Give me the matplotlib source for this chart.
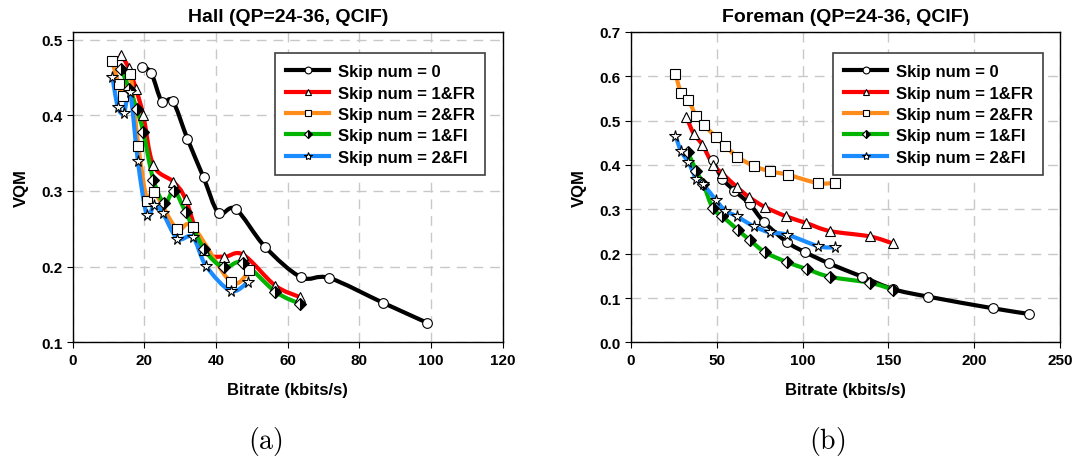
import matplotlib
matplotlib.use("Agg")
import matplotlib.pyplot as plt
from matplotlib.path import Path
from matplotlib.patches import PathPatch
from matplotlib.lines import Line2D

plt.rcParams["font.family"] = ["Liberation Sans", "DejaVu Sans"]
plt.rcParams["font.weight"] = "bold"
plt.rcParams["mathtext.fontset"] = "cm"

labels = ["Skip num = 0", "Skip num = 1&FR", "Skip num = 2&FR",
          "Skip num = 1&FI", "Skip num = 2&FI"]

# Hall (QP=24-36, QCIF)
hall_x = [
    [19.3, 21.9, 24.9, 27.9, 32.0, 36.5, 40.7, 45.5, 53.7, 63.7, 71.6, 86.7, 98.8],
    [13.4, 15.6, 17.7, 19.7, 22.5, 28.1, 31.5, 36.5, 42.1, 47.5, 56.5, 63.3],
    [11.1, 12.8, 14.1, 16.0, 18.3, 20.8, 22.7, 29.0, 33.5, 44.1, 49.3],
    [13.5, 15.8, 17.9, 19.7, 22.5, 25.6, 28.3, 31.5, 36.7, 42.1, 47.5, 56.5, 63.3],
    [11.1, 12.6, 14.3, 16.0, 18.2, 20.7, 22.8, 25.1, 29.2, 33.5, 37.2, 44.1, 49.0],
]
hall_y = [
    [0.464, 0.456, 0.418, 0.419, 0.369, 0.318, 0.271, 0.276, 0.226, 0.186, 0.185, 0.152, 0.126],
    [0.480, 0.463, 0.434, 0.400, 0.334, 0.312, 0.289, 0.222, 0.213, 0.216, 0.175, 0.160],
    [0.471, 0.441, 0.425, 0.455, 0.360, 0.287, 0.299, 0.250, 0.253, 0.180, 0.195],
    [0.461, 0.435, 0.408, 0.378, 0.315, 0.284, 0.300, 0.272, 0.223, 0.199, 0.205, 0.167, 0.151],
    [0.450, 0.411, 0.403, 0.431, 0.339, 0.268, 0.282, 0.271, 0.237, 0.239, 0.201, 0.168, 0.180],
]

# Foreman (QP=24-36, QCIF)
foreman_x = [
    [47.5, 53.3, 60.3, 69.1, 77.6, 90.9, 101.6, 115.4, 134.7, 152.8, 173.2, 210.6, 232.0],
    [32.2, 36.6, 41.5, 48.0, 52.9, 61.7, 69.0, 78.1, 90.5, 102.2, 115.8, 139.0, 152.6],
    [25.9, 29.2, 33.5, 38.0, 42.6, 49.6, 54.9, 61.7, 71.4, 80.7, 91.2, 109.0, 118.7],
    [33.1, 38.0, 42.2, 47.7, 53.3, 62.1, 69.1, 78.2, 90.9, 102.6, 115.8, 139.5, 152.6],
    [25.9, 29.2, 33.5, 38.0, 42.2, 49.6, 55.0, 61.7, 71.4, 80.7, 90.9, 109.0, 118.7],
]
foreman_y = [
    [0.411, 0.369, 0.342, 0.312, 0.271, 0.226, 0.203, 0.178, 0.148, 0.120, 0.103, 0.077, 0.064],
    [0.509, 0.470, 0.446, 0.399, 0.382, 0.350, 0.327, 0.305, 0.284, 0.269, 0.251, 0.239, 0.223],
    [0.606, 0.563, 0.546, 0.510, 0.490, 0.462, 0.443, 0.419, 0.398, 0.386, 0.378, 0.359, 0.360],
    [0.429, 0.387, 0.356, 0.302, 0.284, 0.254, 0.231, 0.203, 0.181, 0.165, 0.148, 0.134, 0.119],
    [0.466, 0.431, 0.406, 0.369, 0.356, 0.320, 0.297, 0.284, 0.262, 0.248, 0.243, 0.217, 0.214],
]

colors = ["black", "#ff0000", "#ff8c1a", "#00b400", "#1a8cff"]
markers = ["o", "^", "s", "D", "*"]


def smooth_path(xs, ys):
    """Excel-like smoothed line: Catmull-Rom as cubic bezier"""
    pts = list(zip(xs, ys))
    verts = [pts[0]]
    codes = [Path.MOVETO]
    n = len(pts)
    for i in range(n - 1):
        p0 = pts[i - 1] if i > 0 else pts[i]
        p1 = pts[i]
        p2 = pts[i + 1]
        p3 = pts[i + 2] if i + 2 < n else pts[i + 1]
        c1 = (p1[0] + (p2[0] - p0[0]) / 6, p1[1] + (p2[1] - p0[1]) / 6)
        c2 = (p2[0] - (p3[0] - p1[0]) / 6, p2[1] - (p3[1] - p1[1]) / 6)
        verts += [c1, c2, p2]
        codes += [Path.CURVE4] * 3
    return Path(verts, codes)


def marker_style(k):
    st = dict(marker=markers[k], markeredgecolor="black", markeredgewidth=0.8,
              markerfacecolor="white")
    if markers[k] == "D":
        st.update(markerfacecolor="black", markerfacecoloralt="white",
                  fillstyle="right", markersize=6)
    elif markers[k] == "*":
        st.update(markersize=8.5)
    else:
        st.update(markersize=7)
    return st


def draw_panel(ax, xs_all, ys_all, title, xlim, ylim, xticks, yticks, yfmt):
    for k in range(5):
        patch = PathPatch(smooth_path(xs_all[k], ys_all[k]), facecolor="none",
                          edgecolor=colors[k], linewidth=3, zorder=2,
                          capstyle="round", joinstyle="round")
        ax.add_patch(patch)
        ax.plot(xs_all[k], ys_all[k], linestyle="none", zorder=3, **marker_style(k))

    ax.set_xlim(*xlim)
    ax.set_ylim(*ylim)
    ax.set_xticks(xticks)
    ax.set_yticks(yticks)
    ax.set_yticklabels([yfmt % v for v in yticks])
    ax.grid(True, color="#c8c8c8", linestyle=(0, (7, 5)), linewidth=1)
    ax.set_axisbelow(True)
    ax.tick_params(direction="out", length=4, width=0.8, labelsize=11)
    for s in ax.spines.values():
        s.set_color("black")
        s.set_linewidth(1)
    ax.set_title(title, fontsize=14, fontweight="bold", pad=8)
    ax.set_xlabel("Bitrate (kbits/s)", fontsize=12, fontweight="bold", labelpad=11)
    ax.set_ylabel("VQM", fontsize=12, fontweight="bold", labelpad=9)

    handles = []
    for k in range(5):
        st = marker_style(k)
        st["markersize"] = st["markersize"] * 0.7
        handles.append(Line2D([], [], color=colors[k], linewidth=3, **st))
    leg = ax.legend(handles, labels, loc="upper left", bbox_to_anchor=(0.471, 0.931),
                    borderaxespad=0, fontsize=12, fancybox=False, framealpha=1,
                    edgecolor="#404040", handlelength=2.6, labelspacing=0.38,
                    handletextpad=0.5, borderpad=0.65)
    leg.get_frame().set_linewidth(1.2)
    for t in leg.get_texts():
        t.set_fontweight("bold")


fig = plt.figure(figsize=(10.81, 4.64), dpi=100)
ax1 = fig.add_axes([0.0672, 0.260, 0.398, 0.669])
ax2 = fig.add_axes([0.5837, 0.260, 0.397, 0.669])

draw_panel(ax1, hall_x, hall_y, "Hall (QP=24-36, QCIF)", (0, 120), (0.1, 0.51),
           [0, 20, 40, 60, 80, 100, 120], [0.1, 0.2, 0.3, 0.4, 0.5], "%.1f")
draw_panel(ax2, foreman_x, foreman_y, "Foreman (QP=24-36, QCIF)", (0, 250), (0, 0.7),
           [0, 50, 100, 150, 200, 250], [0, 0.1, 0.2, 0.3, 0.4, 0.5, 0.6, 0.7], "%.1f")

fig.text(265 / 1081, 1 - 442 / 464, r"$\mathrm{(a)}$", fontsize=20, ha="center", va="center")
fig.text(827 / 1081, 1 - 442 / 464, r"$\mathrm{(b)}$", fontsize=20, ha="center", va="center")

fig.savefig("out.png", dpi=100)
